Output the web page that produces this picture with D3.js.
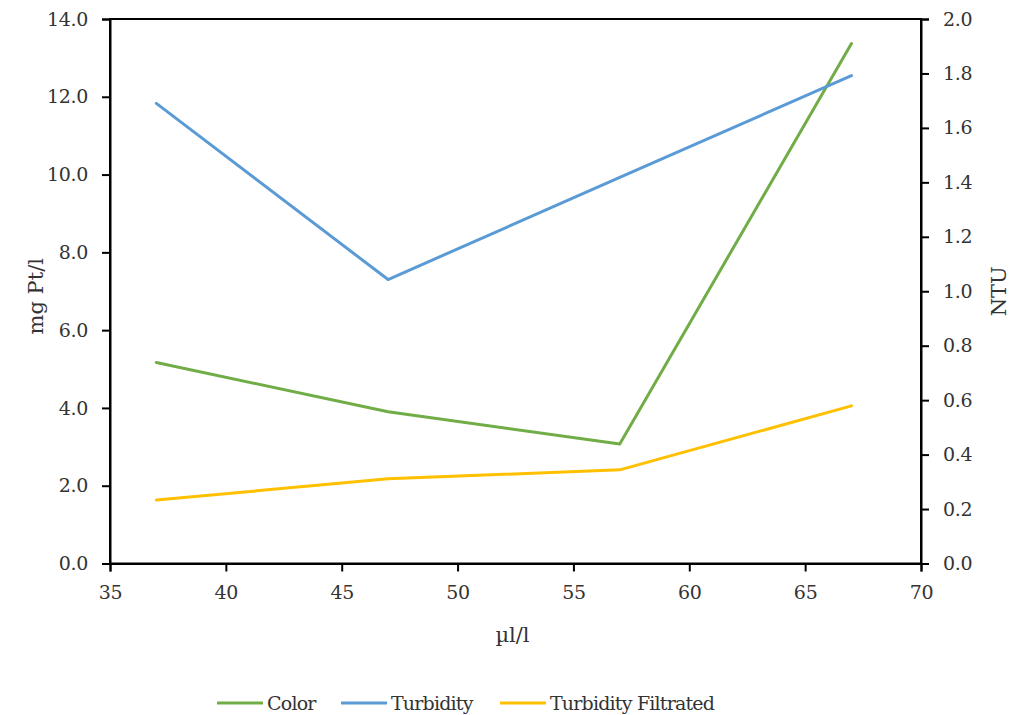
<!DOCTYPE html>
<html>
<head>
<meta charset="utf-8">
<script src="https://cdn.jsdelivr.net/npm/d3@7"></script>
<style>
  html, body { margin: 0; padding: 0; background: #fff; }
  svg text { font-family: "DejaVu Serif", "Liberation Serif", serif; fill: #333; }
</style>
</head>
<body>
<svg id="chart" width="1013" height="715"></svg>
<script>
// Dose (µl/l) on the x axis
const dose = [37, 47, 57, 67];
// Color, mg Pt/l (left axis)
const color = [5.17, 3.90, 3.07, 13.37];
// Turbidity, NTU (right axis)
const turbidity = [1.69, 1.043, 1.418, 1.792];
// Turbidity after filtration, NTU (right axis)
const turbidityFiltrated = [0.233, 0.311, 0.344, 0.579];

const xTicks = [35, 40, 45, 50, 55, 60, 65, 70];
const leftTicks = [0, 2, 4, 6, 8, 10, 12, 14];
const rightTicks = [0, 0.2, 0.4, 0.6, 0.8, 1.0, 1.2, 1.4, 1.6, 1.8, 2.0];

const seriesNames = ["Color", "Turbidity", "Turbidity Filtrated"];
const seriesColors = ["#70AD47", "#5B9BD5", "#FFC000"];

const svg = d3.select("#chart");
const L = 110, R = 921, T = 19, B = 563.5;

const x = d3.scaleLinear().domain([35, 70]).range([L, R]);
const yL = d3.scaleLinear().domain([0, 14]).range([B, T]);
const yR = d3.scaleLinear().domain([0, 2]).range([B, T]);

// plot frame
svg.append("rect")
  .attr("x", L).attr("y", T).attr("width", R - L).attr("height", B - T)
  .attr("fill", "none").attr("stroke", "#000").attr("stroke-width", 2);

const tickFs = "19px";
const titleFs = "21px";

// x axis
const gx = svg.append("g").attr("transform", `translate(0,${B})`)
  .call(d3.axisBottom(x).tickValues(xTicks).tickFormat(d3.format("d")).tickSize(8).tickPadding(14));
// left axis
const gl = svg.append("g").attr("transform", `translate(${L},0)`)
  .call(d3.axisLeft(yL).tickValues(leftTicks).tickFormat(d3.format(".1f")).tickSize(8).tickPadding(14));
// right axis
const gr = svg.append("g").attr("transform", `translate(${R},0)`)
  .call(d3.axisRight(yR).tickValues(rightTicks).tickFormat(d3.format(".1f")).tickSize(8).tickPadding(14));

[gx, gl, gr].forEach(g => {
  g.select(".domain").attr("stroke", "#000").attr("stroke-width", 2);
  g.selectAll(".tick line").attr("stroke", "#000").attr("stroke-width", 2);
  g.selectAll(".tick text").style("font-size", tickFs).attr("fill", "#333")
    .style("font-family", '"DejaVu Serif", serif')
    .style("letter-spacing", "-0.3px");
});

// axis titles
svg.append("text").attr("x", x(52.5) - 3).attr("y", 642)
  .attr("text-anchor", "middle").style("font-size", titleFs).text("µl/l");
svg.append("text").attr("transform", `translate(43,${(T + B) / 2 + 5}) rotate(-90)`)
  .attr("text-anchor", "middle").style("font-size", titleFs).text("mg Pt/l");
svg.append("text").attr("transform", `translate(1006,${(T + B) / 2}) rotate(-90)`)
  .attr("text-anchor", "middle").style("font-size", titleFs).text("NTU");

// series lines
const lineL = d3.line().x((d, i) => x(dose[i])).y(d => yL(d));
const lineR = d3.line().x((d, i) => x(dose[i])).y(d => yR(d));

const series = [
  { values: color, line: lineL },
  { values: turbidity, line: lineR },
  { values: turbidityFiltrated, line: lineR }
];
series.forEach((s, i) => {
  svg.append("path").datum(s.values)
    .attr("d", s.line)
    .attr("fill", "none")
    .attr("stroke", seriesColors[i])
    .attr("stroke-width", 3)
    .attr("stroke-linejoin", "round")
    .attr("stroke-linecap", "round");
});

// legend
const legendX = [217, 341, 500];
const lg = svg.append("g").attr("transform", "translate(0,703)");
seriesNames.forEach((name, i) => {
  lg.append("line").attr("x1", legendX[i]).attr("x2", legendX[i] + 46)
    .attr("y1", 0).attr("y2", 0)
    .attr("stroke", seriesColors[i]).attr("stroke-width", 3);
  lg.append("text").attr("x", legendX[i] + 50).attr("y", 7)
    .style("font-size", "19px").style("letter-spacing", "-0.8px").text(name);
});
</script>
</body>
</html>
